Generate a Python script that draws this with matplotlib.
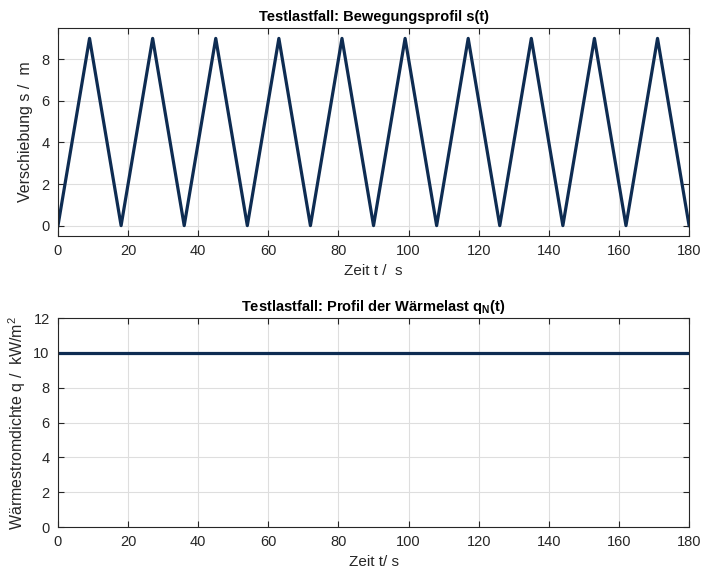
import matplotlib
matplotlib.use('Agg')
import matplotlib.pyplot as plt

# Bewegungsprofil (Dreieck, Umkehrpunkte)
t_s = [0, 9, 18, 27, 36, 45, 54, 63, 72, 81, 90, 99, 108, 117, 126, 135, 144, 153, 162, 171, 180]
s_m = [0, 9, 0, 9, 0, 9, 0, 9, 0, 9, 0, 9, 0, 9, 0, 9, 0, 9, 0, 9, 0]

# Waermelast
t_q = [0, 180]
q_kw = [10, 10]

plt.rcParams['font.family'] = ['Liberation Sans', 'DejaVu Sans']
plt.rcParams['mathtext.fontset'] = 'custom'
plt.rcParams['mathtext.rm'] = 'Liberation Sans'
plt.rcParams['mathtext.bf'] = 'Liberation Sans:bold'
plt.rcParams['mathtext.default'] = 'regular'

line_col = '#0e2c52'
axis_col = '#262626'

fig = plt.figure(figsize=(7.02, 5.69), dpi=100)
ax1 = fig.add_axes([0.0826, 0.5852, 0.899, 0.3656])
ax2 = fig.add_axes([0.0826, 0.0738, 0.899, 0.3673])


def style(ax):
    ax.grid(True, color='#dedede', linewidth=0.8)
    ax.set_axisbelow(True)
    for sp in ax.spines.values():
        sp.set_color(axis_col)
        sp.set_linewidth(0.8)
    ax.tick_params(direction='in', top=True, right=True, colors=axis_col,
                   labelsize=10.5, length=4, width=0.8, pad=6)


ax1.plot(t_s, s_m, color=line_col, linewidth=2.3)
ax1.set_xlim(0, 180)
ax1.set_ylim(-0.5, 9.5)
ax1.set_xticks(range(0, 181, 20))
ax1.set_yticks(range(0, 9, 2))
ax1.set_xlabel('Zeit t /  s', fontsize=11, color=axis_col, labelpad=4)
ax1.set_ylabel('Verschiebung s /  m', fontsize=11.5, color=axis_col, labelpad=6)
ax1.set_title('Testlastfall: Bewegungsprofil s(t)', fontsize=10.5, fontweight='bold', pad=5)
style(ax1)

ax2.plot(t_q, q_kw, color=line_col, linewidth=2.3)
ax2.set_xlim(0, 180)
ax2.set_ylim(0, 12)
ax2.set_xticks(range(0, 181, 20))
ax2.set_yticks(range(0, 13, 2))
ax2.set_xlabel('Zeit t/ s', fontsize=11, color=axis_col, labelpad=4)
ax2.set_ylabel('Wärmestromdichte q /  kW/m$^{2}$', fontsize=11.5, color=axis_col, labelpad=4)
ax2.set_title(r'Testlastfall: Profil der Wärmelast q$_{\mathbf{N}}$(t)', fontsize=10.5,
              fontweight='bold', pad=5)
style(ax2)

fig.savefig('out.png', dpi=100)
